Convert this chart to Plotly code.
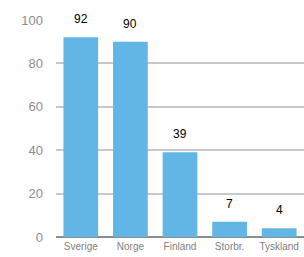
import plotly.graph_objects as go

categories = ["Sverige", "Norge", "Finland", "Storbr.", "Tyskland"]
values = [92, 90, 39, 7, 4]
y_ticks = [0, 20, 40, 60, 80, 100]

fig = go.Figure()
fig.add_trace(go.Bar(
    x=categories, y=values,
    marker=dict(color="#62b6e6", line=dict(width=0)),
    width=0.7,
    cliponaxis=False,
))
for c, v in zip(categories, values):
    fig.add_annotation(x=c, y=v, text=str(v), showarrow=False, yanchor="bottom",
                       yshift=9, font=dict(family="Liberation Sans, Arial", size=12, color="#000000"))

fig.update_layout(
    width=304, height=257,
    margin=dict(l=56, r=0, t=20, b=20, autoexpand=False),
    paper_bgcolor="white", plot_bgcolor="white",
    showlegend=False,
    bargap=0.3,
    font=dict(family="Liberation Sans, Arial"),
)
fig.update_xaxes(
    tickfont=dict(size=10, color="#808080"),
    showline=False, showgrid=False, ticks="", automargin=False,
    ticklabelstandoff=2,
)
fig.update_yaxes(
    range=[0, 100], tickvals=y_ticks,
    tickfont=dict(size=13, color="#8c8c8c"),
    showgrid=True, gridcolor="#c8c8c8", gridwidth=1.5,
    zeroline=True, zerolinecolor="#8c8c8c", zerolinewidth=1.5,
    ticks="", ticklabelstandoff=12, automargin=False,
)
fig.write_html("out.html", config={"displayModeBar": False},
               post_script="document.body.style.margin='0';document.body.style.overflow='hidden';")
